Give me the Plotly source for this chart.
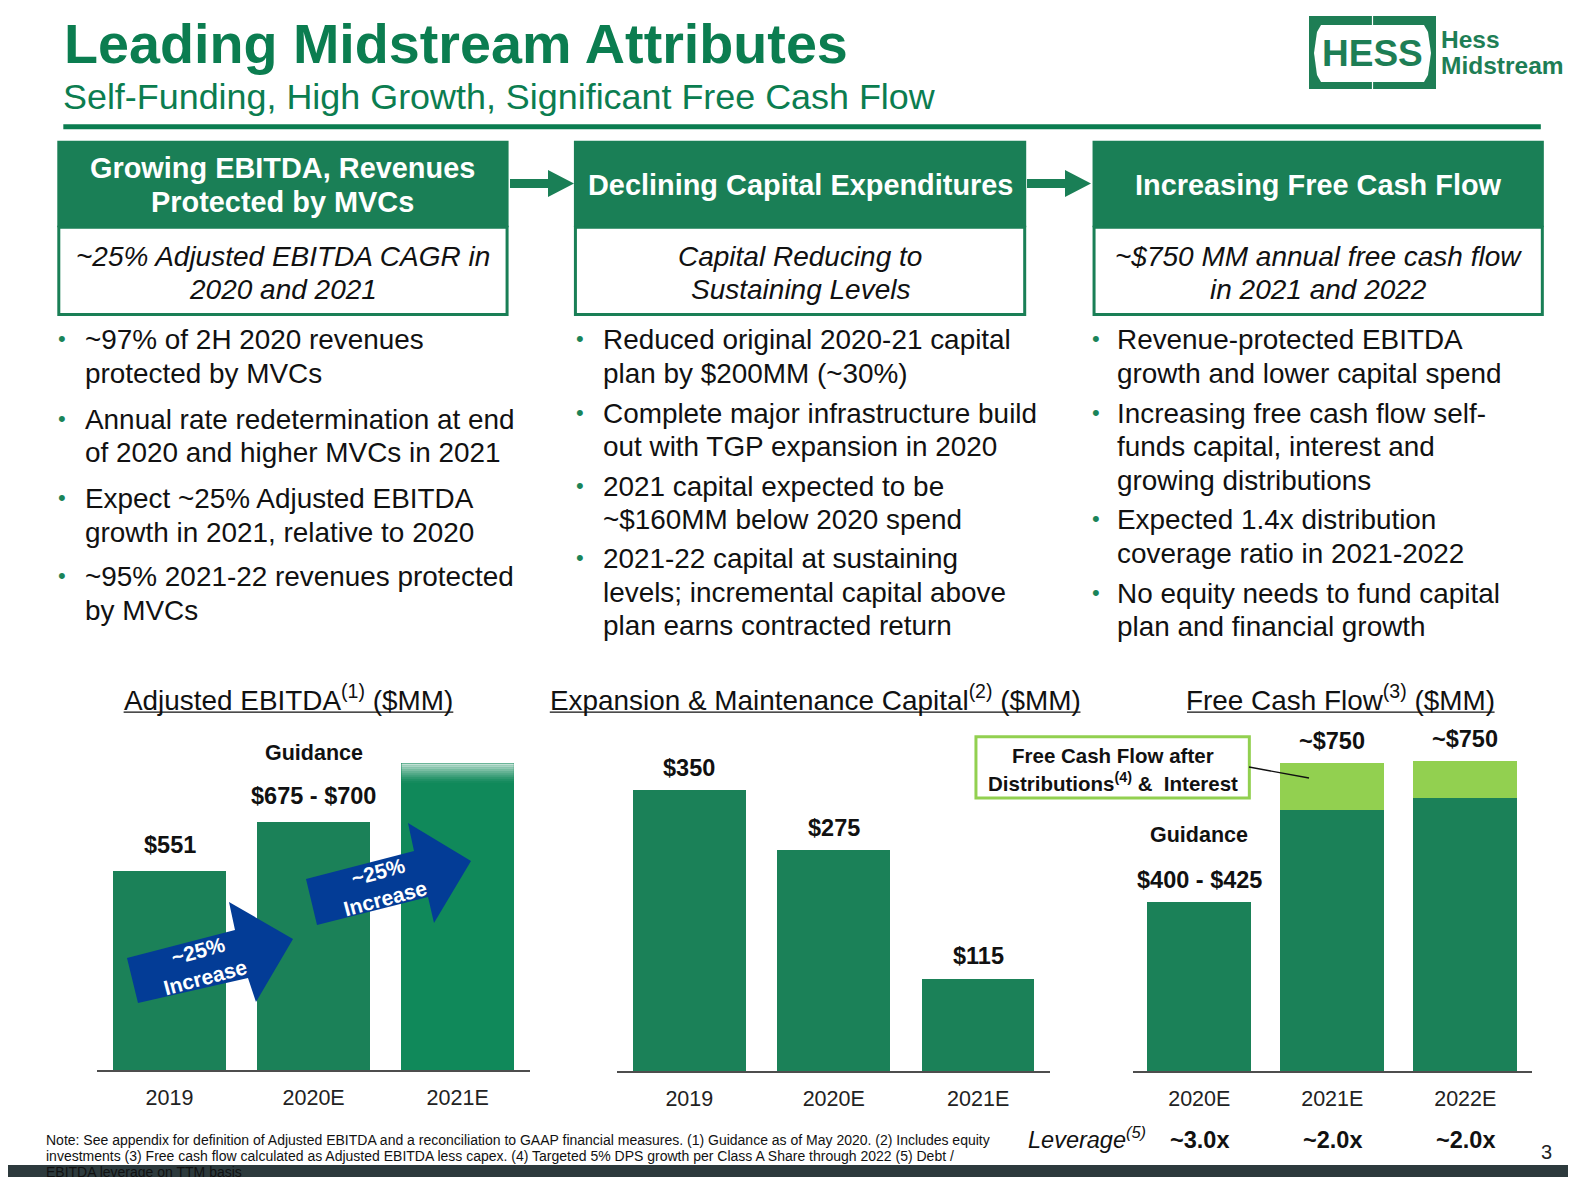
import plotly.graph_objects as go

# The page body adds an 8px offset, so the figure is 8px smaller and every
# reference pixel is mapped 8px up/left.
OFF = 8
W, H = 1576 - OFF, 1177 - OFF
S = 1576 / 1568  # reading scale (shrunk view -> full size)


def X(x):
    return (x * S - OFF) / W


def Y(y):
    return 1 - (y * S - OFF) / H


def XF(x):
    return (x - OFF) / W


def YF(y):
    return 1 - (y - OFF) / H


GREEN = "#1a7f56"
BAR = "#1b8158"
BAR_BRIGHT = "#10895a"
LIGHT = "#92d050"
BLUE = "#033c96"
TITLE_GREEN = "#0b7d50"
TXT = "#111111"
FONT = "Arial, Liberation Sans, sans-serif"

# ---------------- data ----------------
ebitda_cat = ["2019", "2020E", "2021E"]
ebitda_val = [551, 687.5, 850]
ebitda_lbl = ["$551", "$675 - $700", ""]

capex_cat = ["2019", "2020E", "2021E"]
capex_val = [350, 275, 115]
capex_lbl = ["$350", "$275", "$115"]

fcf_cat = ["2020E", "2021E", "2022E"]
fcf_base = [412.5, 635, 663]
fcf_after = [0, 115, 90]
fcf_lbl = ["$400 - $425", "~$750", "~$750"]

leverage_lbl = ["~3.0x", "~2.0x", "~2.0x"]

headers = ["Growing EBITDA, Revenues<br>Protected by MVCs",
           "Declining Capital Expenditures",
           "Increasing Free Cash Flow"]
subheads = [["~25% Adjusted EBITDA CAGR in", "2020 and 2021"],
            ["Capital Reducing to", "Sustaining Levels"],
            ["~$750 MM annual free cash flow", "in 2021 and 2022"]]

bullets = [
    [["~97% of 2H 2020 revenues", "protected by MVCs"],
     ["Annual rate redetermination at end", "of 2020 and higher MVCs in 2021"],
     ["Expect ~25% Adjusted EBITDA", "growth in 2021, relative to 2020"],
     ["~95% 2021-22 revenues protected", "by MVCs"]],
    [["Reduced original 2020-21 capital", "plan by $200MM (~30%)"],
     ["Complete major infrastructure build", "out with TGP expansion in 2020"],
     ["2021 capital expected to be", "~$160MM below 2020 spend"],
     ["2021-22 capital at sustaining", "levels; incremental capital above", "plan earns contracted return"]],
    [["Revenue-protected EBITDA", "growth and lower capital spend"],
     ["Increasing free cash flow self-", "funds capital, interest and", "growing distributions"],
     ["Expected 1.4x distribution", "coverage ratio in 2021-2022"],
     ["No equity needs to fund capital", "plan and financial growth"]],
]

footnote = ["Note: See appendix for definition of Adjusted EBITDA and a reconciliation to GAAP financial measures. (1) Guidance as of May 2020. (2) Includes equity",
            "investments (3) Free cash flow calculated as Adjusted EBITDA less capex. (4) Targeted 5% DPS growth per Class A Share through 2022 (5) Debt /",
            "EBITDA leverage on TTM basis"]

# ---------------- figure ----------------
fig = go.Figure()
fig.add_trace(go.Bar(x=ebitda_cat, y=ebitda_val, width=0.78,
                     marker=dict(color=[BAR, BAR, BAR_BRIGHT], line=dict(width=0)),
                     xaxis="x", yaxis="y", hoverinfo="skip"))
fig.add_trace(go.Bar(x=capex_cat, y=capex_val, width=0.78,
                     marker=dict(color=BAR, line=dict(width=0)),
                     xaxis="x2", yaxis="y2", hoverinfo="skip"))
fig.add_trace(go.Bar(x=fcf_cat, y=fcf_base, width=0.785,
                     marker=dict(color=BAR, line=dict(width=0)),
                     xaxis="x3", yaxis="y3", hoverinfo="skip"))
fig.add_trace(go.Bar(x=fcf_cat, y=fcf_after, width=0.785,
                     marker=dict(color=LIGHT, line=dict(width=0)),
                     xaxis="x3", yaxis="y3", hoverinfo="skip"))


def xaxis(d0, d1, anchor):
    return dict(domain=[X(d0), X(d1)], anchor=anchor, type="category",
                range=[-0.5, 2.5], showline=True, linecolor="#4d4d4d", linewidth=1.6,
                showgrid=False, zeroline=False, ticks="",
                tickfont=dict(family=FONT, size=21.5, color="#222"),
                ticklabelstandoff=7, fixedrange=True)


def yaxis(base, top, pxper, anchor):
    return dict(domain=[Y(base), Y(top)], anchor=anchor,
                range=[0, (base - top) / pxper], visible=False,
                showgrid=False, zeroline=False, fixedrange=True)


layout = dict(
    width=W, height=H, margin=dict(l=0, r=0, t=0, b=0),
    paper_bgcolor="white", plot_bgcolor="rgba(0,0,0,0)",
    showlegend=False, barmode="stack", bargap=0.2,
    xaxis=xaxis(97, 527, "y"), yaxis=yaxis(1065, 700, 0.3593, "x"),
    xaxis2=xaxis(614, 1045, "y2"), yaxis2=yaxis(1066, 700, 0.80, "x2"),
    xaxis3=xaxis(1127, 1524, "y3"), yaxis3=yaxis(1066, 700, 0.4097, "x3"),
)
fig.update_layout(**layout)

shapes = []
ann = []


def rect(x0, y0, x1, y1, fill=None, line=None, lw=0, full=False, layer="below"):
    f = (XF, YF) if full else (X, Y)
    shapes.append(dict(type="rect", xref="paper", yref="paper",
                       x0=f[0](x0), x1=f[0](x1), y0=f[1](y0), y1=f[1](y1),
                       fillcolor=fill if fill else "rgba(0,0,0,0)",
                       line=dict(color=line if line else "rgba(0,0,0,0)", width=lw),
                       layer=layer))


def line(x0, y0, x1, y1, color, lw, full=False):
    f = (XF, YF) if full else (X, Y)
    shapes.append(dict(type="line", xref="paper", yref="paper",
                       x0=f[0](x0), x1=f[0](x1), y0=f[1](y0), y1=f[1](y1),
                       line=dict(color=color, width=lw)))


def poly(pts, fill, full=True, layer="above"):
    f = (XF, YF) if full else (X, Y)
    d = "M " + " L ".join(f"{f[0](a):.5f},{f[1](b):.5f}" for a, b in pts) + " Z"
    shapes.append(dict(type="path", xref="paper", yref="paper", path=d,
                       fillcolor=fill, line=dict(width=0), layer=layer))


def text(x, y, s, size, color=TXT, weight="normal", style="normal",
         xanchor="center", full=False, angle=0, yanchor="middle"):
    f = (XF, YF) if full else (X, Y)
    ann.append(dict(xref="paper", yref="paper", x=f[0](x), y=f[1](y), text=s,
                    showarrow=False, xanchor=xanchor, yanchor=yanchor, textangle=angle,
                    font=dict(family=FONT, size=size, color=color, weight=weight, style=style)))


# title block
text(62, 44, "Leading Midstream Attributes", 55.7, TITLE_GREEN, "bold", xanchor="left")
text(61, 97, "Self-Funding, High Growth, Significant Free Cash Flow", 35.9, TITLE_GREEN, xanchor="left")
rect(63, 123.5, 1533, 128.5, fill=TITLE_GREEN)

# logo (full-size coordinates)
rect(1309, 16, 1436, 89, fill="#1e7e55", full=True)
poly([(1321, 25), (1424, 25), (1428, 32), (1431, 53), (1428, 75), (1424, 82),
      (1321, 82), (1317, 75), (1314, 53), (1317, 32)], "white", full=True, layer="below")
line(1372.5, 16, 1372.5, 89, "white", 1.2, full=True)
text(1372.5, 54, "HESS", 37, "#1e7e55", "bold", full=True)
text(1439, 39, "Hess", 24.5, "#1e7e55", "bold", xanchor="left", full=True)
text(1439, 66, "Midstream", 24.5, "#1e7e55", "bold", xanchor="left", full=True)

# header boxes
boxes = [(57, 506), (571, 1021), (1087, 1536)]
for i, (a, b) in enumerate(boxes):
    rect(a, 140, b, 226, fill=GREEN)
    rect(a + 1.5, 226, b - 1.5, 313, fill="white", line=GREEN, lw=3)
    c = (a + b) / 2
    hl = headers[i].split("<br>")
    if len(hl) == 2:
        text(c, 167, hl[0], 28.9, "white", "bold")
        text(c, 201, hl[1], 28.9, "white", "bold")
    else:
        text(c, 184, hl[0], 28.9, "white", "bold")
    text(c, 255, subheads[i][0], 28.0, TXT, style="italic")
    text(c, 288, subheads[i][1], 28.0, TXT, style="italic")

# connector arrows between header boxes (full-size coords)
for x0 in (510, 1027):
    poly([(x0, 179), (x0 + 38, 179), (x0 + 38, 170), (x0 + 64, 183.5),
          (x0 + 38, 197), (x0 + 38, 188), (x0, 188)], GREEN, full=True)

# bullets
cols = [(62, 83), (577, 598), (1090, 1109)]
starts = [[338, 417, 496, 574], [338, 411, 484, 556], [338, 411, 517, 590]]
for ci, col in enumerate(bullets):
    bx, tx = cols[ci]
    for bi, item in enumerate(col):
        y0 = starts[ci][bi]
        text(bx, y0 - 1, "•", 22, "#1a8459", xanchor="center")
        for li, s in enumerate(item):
            text(tx, y0 + li * 33.3, s, 27.9, TXT, xanchor="left")

# chart titles with underline
titles = [("Adjusted EBITDA<sup>(1)</sup> ($MM)", 287, 123, 451),
          ("Expansion & Maintenance Capital<sup>(2)</sup> ($MM)", 811, 547, 1075),
          ("Free Cash Flow<sup>(3)</sup> ($MM)", 1334, 1181, 1487)]
for s, c, a, b in titles:
    text(c, 694, s, 27.9, TXT)
    line(a, 708.5, b, 708.5, TXT, 1.4)

# fade at top of 2021E EBITDA bar
top = ebitda_val[2]
for k in range(10):
    shapes.append(dict(type="rect", xref="x", yref="y", x0=1.61, x1=2.39,
                       y0=top - (k + 1) * 5.5, y1=top - k * 5.5,
                       fillcolor="white", opacity=0.75 * (1 - k / 10) ** 1.5, line=dict(width=0),
                       layer="above"))


# value labels (category positions given as indices)
def vlabel(xref, yref, idx, val, s, shift, size=23.5):
    ann.append(dict(xref=xref, yref=yref, x=idx, y=val, text=s, showarrow=False,
                    yanchor="middle", yshift=shift,
                    font=dict(family=FONT, size=size, color=TXT, weight="bold")))


for i, (v, s) in enumerate(zip(ebitda_val, ebitda_lbl)):
    if s:
        vlabel("x", "y", i, v, s, 26)
vlabel("x", "y", 1, ebitda_val[1], "Guidance", 69, 21.5)
for i, (v, s) in enumerate(zip(capex_val, capex_lbl)):
    vlabel("x2", "y2", i, v, s, 22.5)
for i, (b, a, s) in enumerate(zip(fcf_base, fcf_after, fcf_lbl)):
    vlabel("x3", "y3", i, b + a, s, 22)
vlabel("x3", "y3", 0, fcf_base[0], "Guidance", 67, 21.5)

# FCF after distributions callout
rect(971, 733, 1243, 794, fill="white", line=LIGHT, lw=3, layer="above")
text(1107, 752, "Free Cash Flow after", 20.5, TXT, "bold")
text(1107, 778, "Distributions<sup>(4)</sup> &  Interest", 20.5, TXT, "bold")
line(1249, 767, 1309, 778, "#111", 1.3, full=True)

# blue growth arrows (full-size coords)
poly([(127, 958), (235, 930), (229, 902), (293, 939), (256, 1002), (248, 978), (138, 1003)], BLUE)
poly([(306, 879), (414, 851), (408, 823), (471, 861), (434, 923), (428, 897), (317, 925)], BLUE)
text(201, 964, "~25%<br>Increase", 21, "white", "bold", full=True, angle=-15)
text(381, 885, "~25%<br>Increase", 21, "white", "bold", full=True, angle=-15)

# leverage row
text(1021, 1132, "Leverage<sup>(5)</sup>", 23.5, TXT, style="italic", xanchor="left")
for i, s in enumerate(leverage_lbl):
    ann.append(dict(xref="x3", yref="paper", x=i, y=Y(1134), text=s, showarrow=False,
                    yanchor="middle", font=dict(family=FONT, size=23.5, color=TXT, weight="bold")))
text(1539, 1146, "3", 20, "#222")

# footnote
for i, s in enumerate(footnote):
    text(44, 1134 + i * 16, s, 14.0, TXT, xanchor="left")

# bottom strip
rect(0, 1165, 1576, 1177, fill="#2d3a3d", full=True, layer="above")

fig.update_layout(shapes=shapes, annotations=ann)
fig.write_html("out.html")
